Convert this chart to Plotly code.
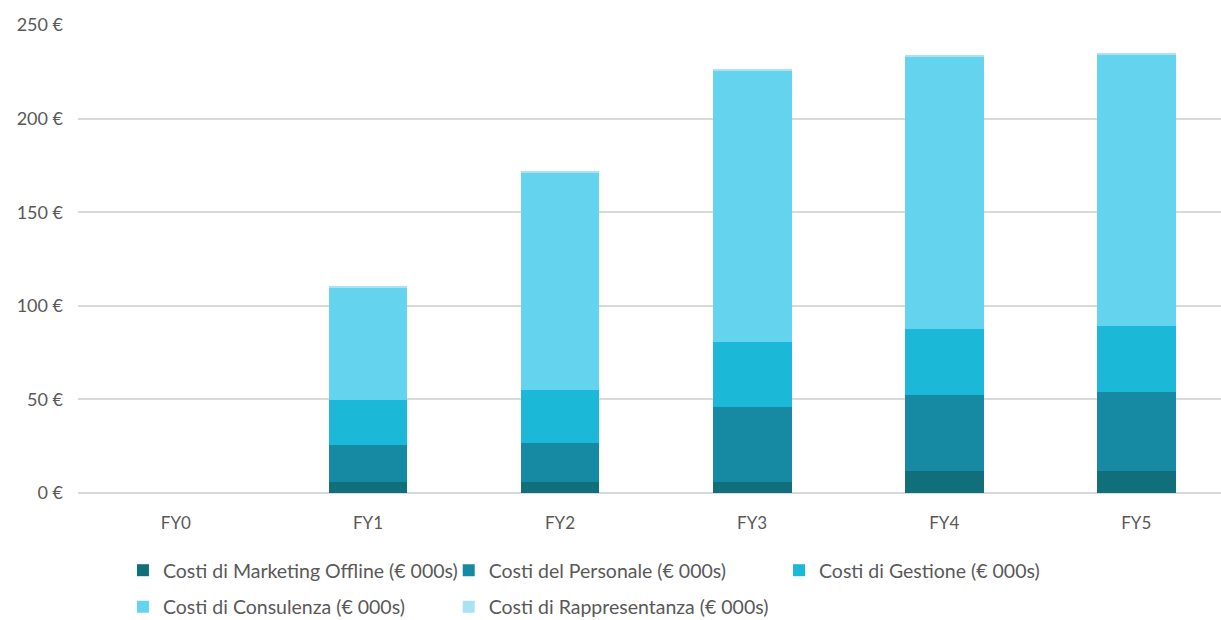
import plotly.graph_objects as go

# Fiscal years on the category axis
years = ["FY0", "FY1", "FY2", "FY3", "FY4", "FY5"]

# Cost components, thousands of euro
marketing_offline = [0, 6, 6, 6, 12, 12]
personale = [0, 19.5, 20.5, 40, 40.5, 42]
gestione = [0, 24, 28.5, 34.7, 35, 35]
consulenza = [0, 60.5, 116, 145, 145.5, 145.5]
rappresentanza = [0, 0.8, 0.8, 0.8, 0.8, 0.8]

# Y axis tick values and their labels
y_ticks = [0, 50, 100, 150, 200, 250]
y_tick_labels = ["0 €", "50 €", "100 €", "150 €", "200 €", "250 €"]

series_names = [
    "Costi di Marketing Offline (€ 000s)",
    "Costi del Personale (€ 000s)",
    "Costi di Gestione (€ 000s)",
    "Costi di Consulenza (€ 000s)",
    "Costi di Rappresentanza (€ 000s)",
]
series_values = [marketing_offline, personale, gestione, consulenza, rappresentanza]
series_colors = ["#116f7c", "#168aa2", "#1cb8d8", "#64d3ee", "#a9e3f3"]

# One legend per entry so each can sit in its own column/row
legend_ids = ["legend", "legend2", "legend3", "legend4", "legend5"]
legend_pos = [  # (x, y) in container fractions
    (0.1007, 0.0798),
    (0.3675, 0.0798),
    (0.6380, 0.0798),
    (0.1007, 0.0210),
    (0.3675, 0.0210),
]

font_family = "Lato, 'Open Sans', sans-serif"
grey = "#595959"

fig = go.Figure()
for name, vals, color, leg in zip(series_names, series_values, series_colors, legend_ids):
    fig.add_trace(go.Bar(
        x=years, y=vals, name=name, legend=leg,
        marker=dict(color=color, line=dict(width=0)),
        width=0.41,
    ))

legend_layout = {}
for leg, (lx, ly) in zip(legend_ids, legend_pos):
    legend_layout[leg] = dict(
        x=lx, y=ly,
        xref="container", yref="container",
        xanchor="left", yanchor="middle",
        orientation="h",
        font=dict(family=font_family, size=19.5, color=grey),
        itemclick=False,
        bgcolor="rgba(0,0,0,0)",
        borderwidth=0,
    )

fig.update_layout(
    barmode="stack",
    width=1221,
    height=620,
    margin=dict(l=78, r=0, t=25, b=127),
    plot_bgcolor="white",
    paper_bgcolor="white",
    font=dict(family=font_family, size=17, color=grey),
    showlegend=True,
    **legend_layout,
    xaxis=dict(
        range=[-0.5096, 5.441],
        showgrid=False,
        showline=False,
        ticks="",
        tickfont=dict(family=font_family, size=17, color=grey),
        ticklabelstandoff=18,
        fixedrange=True,
    ),
    yaxis=dict(
        range=[0, 250],
        tickmode="array",
        tickvals=y_ticks,
        ticktext=y_tick_labels,
        showgrid=True,
        gridcolor="#d9d9d9",
        gridwidth=1.5,
        zeroline=True,
        zerolinecolor="#d9d9d9",
        zerolinewidth=1.5,
        showline=False,
        ticks="",
        tickfont=dict(family=font_family, size=18, color=grey),
        ticklabelstandoff=14,
        fixedrange=True,
    ),
)

fig.write_html("out.html")
